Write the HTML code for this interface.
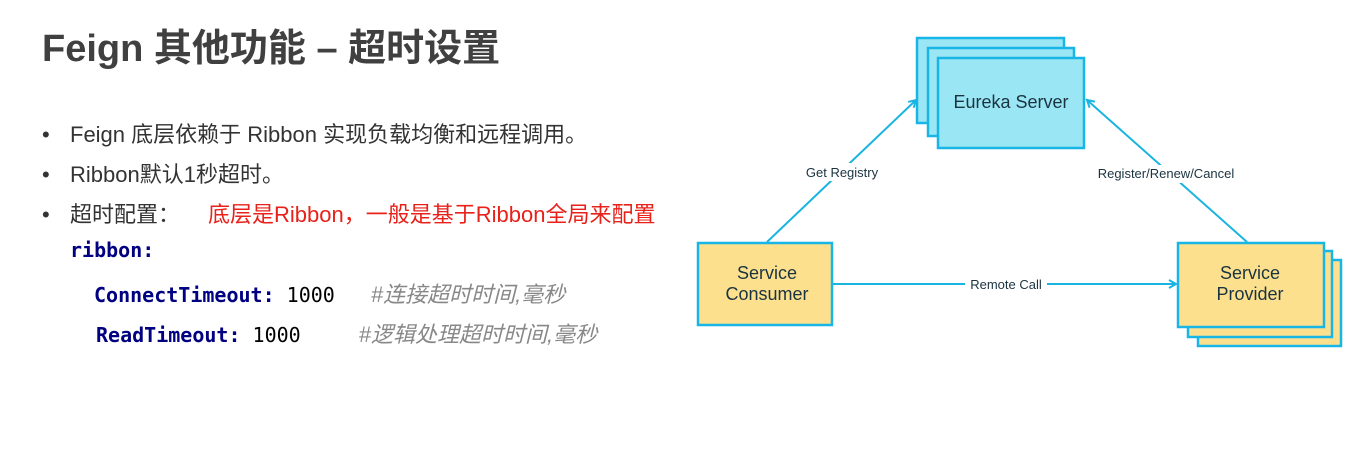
<!DOCTYPE html>
<html><head><meta charset="utf-8"><style>
body{margin:0;width:1361px;height:452px;background:#fff;position:relative;overflow:hidden;font-family:"Liberation Sans","Noto Sans CJK SC",sans-serif}
.a{position:absolute;white-space:nowrap}
.t{left:42px;top:17px;font-size:38px;font-weight:bold;color:#404040}
.b{font-size:22px;color:#333;left:42px}
.b span.d{display:inline-block;width:28px}
.m{font-family:"DejaVu Sans Mono","Liberation Mono","Noto Sans CJK SC",monospace;font-size:20px;font-weight:bold;color:#000080}
.c{color:#888;font-style:italic;font-weight:normal;font-family:"Liberation Sans","Noto Sans CJK SC",sans-serif;font-size:22px}
.n{color:#000;font-weight:normal}
</style></head><body>
<div class="a t">Feign 其他功能 – 超时设置</div>
<div class="a b" style="top:117px"><span class="d">•</span>Feign 底层依赖于 Ribbon 实现负载均衡和远程调用。</div>
<div class="a b" style="top:157px"><span class="d">•</span>Ribbon默认1秒超时。</div>
<div class="a b" style="top:197px"><span class="d">•</span>超时配置：<span style="color:#e8211a;margin-left:28px">底层是Ribbon，一般是基于Ribbon全局来配置</span></div>
<div class="a m" style="left:70px;top:238px">ribbon:</div>
<div class="a m" style="left:94px;top:277px">ConnectTimeout: <span class="n">1000</span><span class="c" style="margin-left:36px">#连接超时时间,毫秒</span></div>
<div class="a m" style="left:96px;top:317px">ReadTimeout: <span class="n">1000</span><span class="c" style="margin-left:58px">#逻辑处理超时时间,毫秒</span></div>
<svg class="a" style="left:0;top:0" width="1361" height="452">
<defs><marker id="ar" markerWidth="10" markerHeight="10" refX="8" refY="5" orient="auto" markerUnits="userSpaceOnUse"><path d="M1,1 L8,5 L1,9" fill="none" stroke="#1ab4e0" stroke-width="2"/></marker></defs>
<g stroke="#18b6e6" stroke-width="2.5">
<rect x="917" y="38" width="147" height="85" fill="#9be6f4"/>
<rect x="928" y="48" width="146" height="88" fill="#9be6f4"/>
<rect x="938" y="58" width="146" height="90" fill="#9be6f4"/>
<rect x="1198" y="260" width="143" height="86" fill="#fce08e"/>
<rect x="1188" y="251" width="144" height="86" fill="#fce08e"/>
<rect x="1178" y="243" width="146" height="84" fill="#fce08e"/>
<rect x="698" y="243" width="134" height="82" fill="#fce08e"/>
</g>
<g stroke="#1ab4e0" stroke-width="2" fill="none">
<line x1="767" y1="242" x2="916" y2="100" marker-end="url(#ar)"/>
<line x1="1247" y1="242" x2="1087" y2="100" marker-end="url(#ar)"/>
<line x1="833" y1="284" x2="1176" y2="284" marker-end="url(#ar)"/>
</g>
<g font-family="Liberation Sans,sans-serif" fill="#1a3340" text-anchor="middle">
<rect x="800" y="163" width="84" height="18" fill="#fff"/>
<rect x="1090" y="165" width="152" height="18" fill="#fff"/>
<rect x="965" y="276" width="82" height="16" fill="#fff"/>
<text x="1011" y="108" font-size="18">Eureka Server</text>
<text x="767" y="279" font-size="18">Service</text>
<text x="767" y="300" font-size="18">Consumer</text>
<text x="1250" y="279" font-size="18">Service</text>
<text x="1250" y="300" font-size="18">Provider</text>
<text x="842" y="177" font-size="13">Get Registry</text>
<text x="1166" y="178" font-size="13">Register/Renew/Cancel</text>
<text x="1006" y="289" font-size="13">Remote Call</text>
</g>
</svg>
</body></html>
